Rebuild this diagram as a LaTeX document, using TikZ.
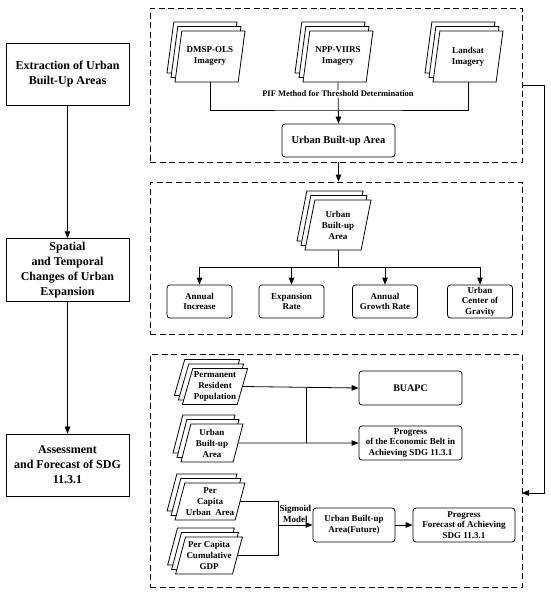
\documentclass[tikz,border=0pt]{standalone}
\usepackage{fontspec}
\setmainfont{Liberation Serif}
\usetikzlibrary{arrows.meta, positioning, shapes.geometric, shadows}

\tikzset{
    stage/.style={draw, rectangle, line width=0.9pt, minimum width=123pt, minimum height=62pt, align=center, font=\fontsize{12}{15}\selectfont\bfseries},
    panel/.style={draw, rectangle, dash pattern=on 6pt off 3.5pt, line width=0.8pt},
    result/.style={draw, rectangle, rounded corners=3pt, line width=0.8pt, minimum height=34pt, inner sep=1pt, align=center, font=\fontsize{9}{10.5}\selectfont\bfseries},
    datastack/.style={draw, fill=white, trapezium, trapezium left angle=72, trapezium right angle=108, trapezium stretches body=true, line width=0.8pt, inner sep=1pt, align=center, font=\fontsize{9}{11}\selectfont\bfseries,
        double copy shadow={shadow xshift=-4pt, shadow yshift=4.5pt, draw=black, fill=white, line width=0.8pt}},
    wire/.style={line width=0.8pt},
    link/.style={line width=0.8pt, -{Triangle[length=7pt, width=5.5pt]}},
}

\begin{document}
\begin{tikzpicture}[x=1pt, y=-1pt]
    \useasboundingbox (0,0) rectangle (550,595);

    % stages on the left
    \node[stage] (s1) at (67.5,74) {Extraction of Urban\\Built-Up Areas};
    \node[stage] (s2) at (67.5,270) {Spatial\\and Temporal\\Changes of Urban\\Expansion};
    \node[stage] (s3) at (67.5,465) {Assessment\\and Forecast of SDG\\11.3.1};
    \draw[link] (s1) -- (s2);
    \draw[link] (s2) -- (s3);

    % dashed panels
    \node[panel, minimum width=372pt, minimum height=154pt] (p1) at (336,85) {};
    \node[panel, minimum width=372pt, minimum height=152pt] (p2) at (336,258) {};
    \node[panel, minimum width=372pt, minimum height=233pt] (p3) at (336,470.5) {};

    % panel 1: extraction
    \node[datastack, minimum width=70pt, minimum height=51pt] (dmsp) at (210,56.5) {DMSP-OLS\\Imagery};
    \node[datastack, minimum width=70pt, minimum height=51pt] (npp) at (338,56.5) {NPP-VIIRS\\Imagery};
    \node[datastack, minimum width=70pt, minimum height=51pt] (landsat) at (468,56.5) {Landsat\\Imagery};
    \node[result, minimum width=113pt, minimum height=33pt, font=\fontsize{10.5}{12}\selectfont\bfseries] (uba) at (338.5,140.5) {Urban Built-up Area};
    \coordinate (merge) at (338,110);
    \draw[wire] (dmsp.center |- dmsp.south) |- (merge) -| (landsat.center |- landsat.south);
    \draw[link] (npp.center |- npp.south) -- (uba.north);
    \node[fill=white, inner sep=1pt, font=\fontsize{8.5}{10}\selectfont\bfseries] (pif) at (338,94) {PIF Method for Threshold Determination};
    \draw[link] (uba |- p1.south) -- (uba |- p2.north);

    % panel 2: spatial and temporal changes
    \node[datastack, minimum width=66pt, minimum height=50pt] (ubadoc) at (338,225) {Urban\\Built-up\\Area};
    \node[result, minimum width=65pt, minimum height=33pt] (inc) at (199.5,301.5) {Annual\\Increase};
    \node[result, minimum width=65pt, minimum height=33pt] (rate) at (291.5,301.5) {Expansion\\Rate};
    \node[result, minimum width=65pt, minimum height=33pt] (grow) at (385,301.5) {Annual\\Growth Rate};
    \node[result, minimum width=65pt, minimum height=33pt] (grav) at (480,301.5) {Urban\\Center of\\Gravity};
    \coordinate (split) at (338,267);
    \draw[wire] (ubadoc.center |- ubadoc.south) -- (split);
    \draw[link] (split) -| (inc.north);
    \draw[link] (split) -| (rate.north);
    \draw[link] (split) -| (grow.north);
    \draw[link] (split) -| (grav.north);

    % panel 3: assessment and forecast
    \node[datastack, minimum width=62pt, minimum height=36pt] (pop) at (215,386.5) {Permanent\\Resident\\Population};
    \node[datastack, minimum width=62pt, minimum height=38pt] (ubadoc2) at (212,443) {Urban\\Built-up\\Area};
    \node[result, minimum width=103pt, font=\fontsize{10}{12}\selectfont\bfseries] (buapc) at (410.5,388) {BUAPC};
    \node[result, minimum width=103pt] (prog) at (410.5,443) {Progress\\of the Economic Belt in\\Achieving SDG 11.3.1};
    \coordinate (join) at (306,415);
    \draw[link] (pop.east) -- (buapc.west);
    \draw[link] (ubadoc2.east) -- (prog.west);
    \draw[wire] (join |- pop.east) -- (join |- ubadoc2.east);

    \node[datastack, minimum width=62pt, minimum height=37pt] (pcua) at (210,501.5) {Per\\Capita\\Urban\enspace Area};
    \node[datastack, minimum width=62pt, minimum height=37pt] (pcgdp) at (209,555.5) {Per Capita\\Cumulative\\GDP};
    \node[result, minimum width=82pt] (fut) at (354,525) {Urban Built-up\\Area(Future)};
    \node[result, minimum width=102pt] (fore) at (464,525) {Progress\\Forecast of Achieving\\SDG 11.3.1};
    \coordinate (sig) at (278,525);
    \draw[wire] (pcua.east) -| (sig);
    \draw[wire] (pcgdp.east) -| (sig);
    \draw[link] (sig) -- node[above, align=center, inner sep=2pt, font=\fontsize{9}{11.5}\selectfont\bfseries] {Sigmoid\\Model} (fut.west);
    \draw[link] (fut) -- (fore);

    % feedback from panel 1 to panel 3
    \coordinate (p3in) at (522,493);
    \draw[link] (p1.east) -- ++(22,0) |- (p3in);
\end{tikzpicture}
\end{document}
